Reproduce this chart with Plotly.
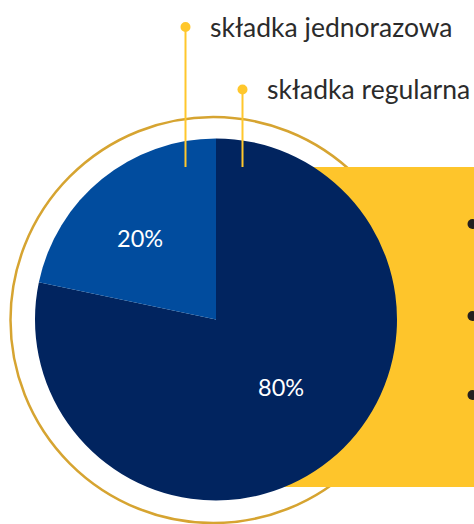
import plotly.graph_objects as go

# ---- data ----
categories = ["składka regularna", "składka jednorazowa"]
shares = [78.3, 21.7]            # slice sizes as drawn
share_labels = ["80%", "20%"]    # labels printed on the slices
slice_colors = ["#01245F", "#014C9E"]

W, H = 474, 524

def px(x):
    return x / W

def py(y):
    return 1 - y / H

# pie geometry (pixels)
cx, cy, r = 216, 319.5, 181

fig = go.Figure()
fig.add_trace(go.Pie(
    labels=categories,
    values=shares,
    sort=False,
    direction="clockwise",
    rotation=0,
    marker=dict(colors=slice_colors, line=dict(width=0)),
    textinfo="none",
    hoverinfo="label+percent",
    showlegend=False,
    domain=dict(x=[px(cx - r), px(cx + r)], y=[py(cy + r), py(cy - r)]),
))

shapes = []
# golden ring behind everything
shapes.append(dict(type="circle", xref="paper", yref="paper", layer="below",
                   x0=px(10.5), x1=px(416), y0=py(523), y1=py(117),
                   line=dict(color="#D6A431", width=2.5), fillcolor="rgba(0,0,0,0)"))
# yellow box
shapes.append(dict(type="rect", xref="paper", yref="paper", layer="below",
                   x0=px(260), x1=px(480), y0=py(487), y1=py(167),
                   line=dict(width=0), fillcolor="#FEC52B"))
# bullets on the yellow box
for by in [224, 316, 395]:
    shapes.append(dict(type="circle", xref="paper", yref="paper", layer="above",
                       x0=px(467.5), x1=px(477.5), y0=py(by + 5), y1=py(by - 5),
                       line=dict(width=0), fillcolor="#231F20"))
# leader lines + dots
leaders = [(185.5, 27), (242.5, 89.5)]
for lx, ly in leaders:
    shapes.append(dict(type="line", xref="paper", yref="paper", layer="above",
                       x0=px(lx), x1=px(lx), y0=py(ly), y1=py(167),
                       line=dict(color="#FFC72C", width=2)))
    shapes.append(dict(type="circle", xref="paper", yref="paper", layer="above",
                       x0=px(lx - 5), x1=px(lx + 5), y0=py(ly + 5), y1=py(ly - 5),
                       line=dict(width=0), fillcolor="#FFC72C"))

annotations = []
# legend texts
legend_pos = [(208, 27, categories[1]), (265, 89, categories[0])]
for tx, ty, t in legend_pos:
    annotations.append(dict(x=px(tx), y=py(ty), xref="paper", yref="paper",
                            text=t, showarrow=False, xanchor="left", yanchor="middle",
                            font=dict(family="Lato", size=26.5, color="#2B2B2B", weight=400)))
# percentage labels
pct_pos = [(280.5, 386.5), (139.5, 237.5)]
for (tx, ty), t in zip(pct_pos, share_labels):
    annotations.append(dict(x=px(tx), y=py(ty), xref="paper", yref="paper",
                            text=t, showarrow=False, xanchor="center", yanchor="middle",
                            font=dict(family="Lato", size=23.5, color="#FFFFFF", weight=400)))

fig.update_layout(
    width=W, height=H,
    margin=dict(l=0, r=0, t=0, b=0),
    paper_bgcolor="#FFFFFF",
    plot_bgcolor="#FFFFFF",
    shapes=shapes,
    annotations=annotations,
    showlegend=False,
)

fig.write_html("out.html", config={"displayModeBar": False})
